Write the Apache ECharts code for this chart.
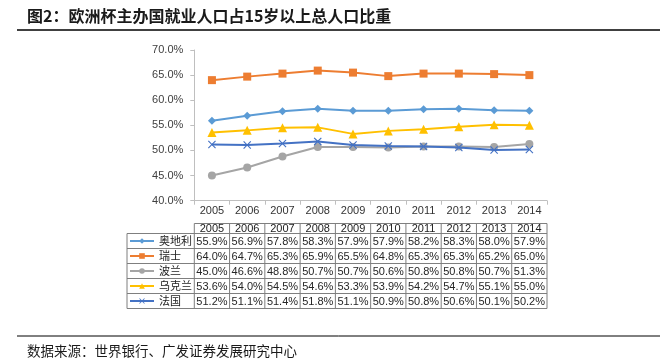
<!DOCTYPE html>
<html><head><meta charset="utf-8">
<script src="https://cdn.jsdelivr.net/npm/echarts@6/dist/echarts.min.js"></script>
<style>html,body{margin:0;padding:0;background:#fff}#c{width:671px;height:364px}</style>
</head><body><div id="c"></div>
<script>
var years = ['2005','2006','2007','2008','2009','2010','2011','2012','2013','2014'];
var austria = [55.9,56.9,57.8,58.3,57.9,57.9,58.2,58.3,58.0,57.9];
var swiss = [64.0,64.7,65.3,65.9,65.5,64.8,65.3,65.3,65.2,65.0];
var poland = [45.0,46.6,48.8,50.7,50.7,50.6,50.8,50.8,50.7,51.3];
var ukraine = [53.6,54.0,54.5,54.6,53.3,53.9,54.2,54.7,55.1,55.0];
var france = [51.2,51.1,51.4,51.8,51.1,50.9,50.8,50.6,50.1,50.2];
var names = ['奥地利','瑞士','波兰','乌克兰','法国'];
var yTicks = {min:40, max:70, interval:5};
var titleText = '图2：欧洲杯主办国就业人口占15岁以上总人口比重';
var sourceText = '数据来源：世界银行、广发证券发展研究中心';

var allData = [austria, swiss, poland, ukraine, france];
var colors = ['#5B9BD5','#ED7D31','#A5A5A5','#FFC000','#4472C4'];
var symbols = ['diamond','rect','circle','triangle',
  'path://M0,1L1,0L5,4L9,0L10,1L6,5L10,9L9,10L5,6L1,10L0,9L4,5Z'];
var sizes = [8,8,8,9,8];

var chart = echarts.init(document.getElementById('c'));
var series = allData.map(function(d,i){
  return {name:names[i], type:'line', data:d, color:colors[i], symbol:symbols[i], symbolSize:sizes[i],
    lineStyle:{width:2,color:colors[i]}, itemStyle:{color:colors[i]}, animation:false, z:2+i};
});
chart.setOption({
  animation:false,
  grid:{left:194.3, right:124, top:50, bottom:163.3},
  xAxis:{type:'category', data:years, boundaryGap:true,
    axisLine:{lineStyle:{color:'#BFBFBF'}},
    axisTick:{show:true, length:4, lineStyle:{color:'#BFBFBF'}},
    axisLabel:{color:'#333', fontSize:11, margin:5, fontFamily:'Liberation Sans, Arial'}},
  yAxis:{type:'value', min:yTicks.min, max:yTicks.max, interval:yTicks.interval,
    axisLine:{show:true, lineStyle:{color:'#BFBFBF'}},
    axisTick:{show:true, length:4, lineStyle:{color:'#BFBFBF'}},
    splitLine:{show:false},
    axisLabel:{color:'#404040', fontSize:11, margin:11, fontFamily:'Liberation Sans, Arial',
      formatter:function(v){return v.toFixed(1)+'%';}}},
  legend:{orient:'vertical', left:129, top:233.5, padding:0, itemGap:0, itemWidth:24, itemHeight:7,
    data:names, textStyle:{fontSize:11, color:'#222', lineHeight:15, fontFamily:'Noto Sans CJK SC'}},
  series:series
});

var g = [];
var lineColor = '#7F7F7F';
var half = (chart.convertToPixel({xAxisIndex:0}, years[1]) - chart.convertToPixel({xAxisIndex:0}, years[0]))/2;
var xs = years.map(function(y){return chart.convertToPixel({xAxisIndex:0}, y);});
var tLeft = 127, colL = xs[0]-half, tRight = xs[xs.length-1]+half;
var hTop = 223.5, hBot = 233.5, rowH = 15;
var bBot = hBot + rowH*names.length;
function ln(x1,y1,x2,y2){g.push({type:'line',shape:{x1:x1,y1:y1,x2:x2,y2:y2},style:{stroke:lineColor,lineWidth:1},silent:true});}
ln(colL,hTop,tRight,hTop);
ln(tLeft,hBot,tRight,hBot);
for (var r=1;r<=names.length;r++) ln(tLeft,hBot+rowH*r,tRight,hBot+rowH*r);
ln(tLeft,hBot,tLeft,bBot);
for (var c=0;c<=years.length;c++){ var x=xs[0]-half+2*half*c; ln(x,hTop,x,bBot); }
years.forEach(function(y,i){
  g.push({type:'text',x:xs[i],y:(hTop+hBot)/2+0.5,style:{text:y,fill:'#222',font:'11px "Liberation Sans", Arial',textAlign:'center',textVerticalAlign:'middle'},silent:true});
});
allData.forEach(function(d,r){
  d.forEach(function(v,i){
    g.push({type:'text',x:xs[i],y:hBot+rowH*r+rowH/2+0.5,style:{text:v.toFixed(1)+'%',fill:'#262626',font:'11px "Liberation Sans", Arial',textAlign:'center',textVerticalAlign:'middle'},silent:true});
  });
});
g.push({type:'text',x:27,y:16,style:{text:titleText,fill:'#1a1a1a',font:'bold 16px "Noto Sans CJK SC"',textAlign:'left',textVerticalAlign:'middle'},silent:true});
g.push({type:'line',shape:{x1:17,y1:30,x2:660,y2:30},style:{stroke:'#000',lineWidth:1.5},silent:true});
g.push({type:'line',shape:{x1:17,y1:336,x2:660,y2:336},style:{stroke:'#000',lineWidth:1},silent:true});
g.push({type:'text',x:27,y:351,style:{text:sourceText,fill:'#1a1a1a',font:'13.5px "Noto Sans CJK SC"',textAlign:'left',textVerticalAlign:'middle'},silent:true});
chart.setOption({graphic:g});
</script></body></html>
